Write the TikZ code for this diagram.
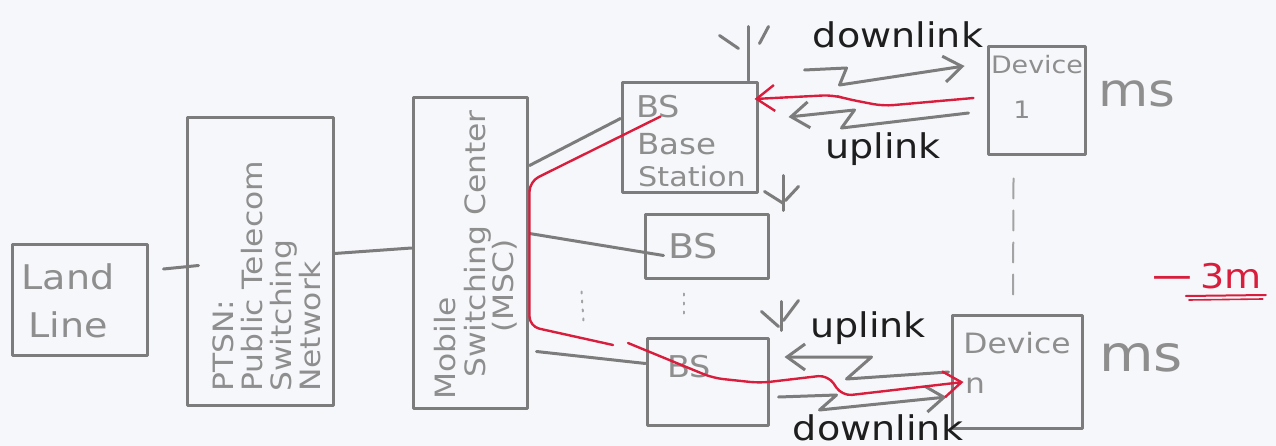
\documentclass[tikz,border=0pt]{standalone}
\usepackage{fontspec}
\setmainfont{DejaVu Sans}[FakeStretch=1.12]
\usetikzlibrary{calc,arrows.meta}
\definecolor{pencil}{HTML}{7C7C7C}
\definecolor{pentext}{HTML}{8E8E8E}
\definecolor{ink}{HTML}{1E1E1E}
\definecolor{redink}{HTML}{D81E3C}
\definecolor{paper}{HTML}{F6F7FA}
\newcommand\handsize[2]{\fontsize{#1}{#2}\selectfont}
\begin{document}
\begin{tikzpicture}[x=1pt,y=-1pt,
  box/.style={draw=pencil, line width=3pt, line join=round, inner sep=0pt},
  wire/.style={draw=pencil, line width=3pt, line cap=round},
  hand/.style={inner sep=0pt, text=pentext},
  pen/.style={inner sep=0pt, text=ink},
  redline/.style={draw=redink, line width=2.4pt, line cap=round, line join=round, rounded corners=10pt},
  barb/.style={-{Straight Barb[length=18pt,width=26pt]}},
  mast/.style={draw=pencil, line width=3pt, line cap=round},
]
\useasboundingbox[fill=paper] (0,0) rectangle (1276,446);

% ---------- boxes ----------
\node[box, minimum width=135, minimum height=110] (land) at (79.5,300) {};
\node[box, minimum width=146, minimum height=287] (ptsn) at (260,261.5) {};
\node[box, minimum width=114, minimum height=310] (msc)  at (470,253) {};
\node[box, minimum width=135, minimum height=110] (bs1)  at (689.5,138) {};
\node[box, minimum width=123, minimum height=63]  (bs2)  at (706.5,246.5) {};
\node[box, minimum width=121, minimum height=87]  (bs3)  at (707.5,381.5) {};
\node[box, minimum width=97,  minimum height=108] (dev1) at (1036.5,101) {};
\node[box, minimum width=130, minimum height=113] (devn) at (1017,371.5) {};

% ---------- box labels ----------
\node[hand, align=center, font=\handsize{34}{48}] (landtxt) at (68,301) {Land\\Line};
\node[hand, rotate=90, anchor=west, align=left, font=\handsize{28}{29}] (ptsntxt)
  at (267,392) {PTSN:\\Public Telecom\\Switching\\Network};
\node[hand, rotate=90, anchor=west, font=\handsize{28}{28}] (msca) at (445,400) {Mobile};
\node[hand, rotate=90, anchor=west, font=\handsize{28}{28}] (mscb) at (478,378) {Switching Center};
\node[hand, rotate=90, anchor=west, font=\handsize{28}{28}] (mscc) at (505,333) {(MSC)};
\node[hand, anchor=base west, font=\handsize{30}{30}] (bs1a) at (636,118) {BS};
\node[hand, anchor=base west, font=\handsize{29}{29}] (bs1b) at (637,155) {Base};
\node[hand, anchor=base west, font=\handsize{27}{27}] (bs1c) at (638,187) {Station};
\node[hand, font=\handsize{34}{34}] (bs2t) at (693,246) {BS};
\node[hand, font=\handsize{30}{30}] (bs3t) at (689,367) {BS};
\node[hand, font=\handsize{24}{24}] (dev1a) at (1037,65) {Device};
\node[hand, font=\handsize{24}{24}] (dev1b) at (1022,110) {1};
\node[hand, font=\handsize{28}{28}] (devna) at (1017,343) {Device};
\node[hand, font=\handsize{28}{28}] (devnb) at (975,386) {n};
\node[hand, font=\handsize{46}{46}] (ms1) at (1137,94) {ms};
\node[hand, font=\handsize{50}{50}] (msn) at (1141,358) {ms};

% ---------- wired links ----------
\draw[wire] ($(land.east)+(15,-31)$) -- ($(ptsn.west)+(13,4)$);
\draw[wire] ($(ptsn.east)+(0,-8)$) -- ($(msc.west)+(0,-5)$);
\draw[wire] ($(msc.north east)+(1,69)$) -- ($(bs1.north west)+(0,37)$);
\draw[wire] ($(msc.north east)+(1,137)$) -- ($(bs2.west)+(20,9)$);
\draw[wire] ($(msc.north east)+(8,255)$) -- ($(bs3.north west)+(0,27)$);

% more base stations / more devices
\draw[pencil!70, line width=2pt, dash pattern=on 2pt off 7pt, line cap=round]
  ($(bs2.south)+(-23,14)$) -- ($(bs2.south)+(-23,40)$);
\draw[pencil!70, line width=2pt, dash pattern=on 2pt off 7pt, line cap=round]
  ($(msc.north east)+(53,195)$) -- ($(msc.north east)+(55,225)$);
\draw[pencil!70, line width=2pt, dash pattern=on 20pt off 12pt, line cap=round]
  ($(dev1.south)+(-23,22)$) -- ($(devn.north)+(-4,-12)$);

% ---------- antennas ----------
\coordinate (ant1) at ($(bs1.north east)+(-10,-55)$);
\draw[mast] (ant1) -- ++(0,54);
\draw[mast] ($(ant1)+(-29,9)$) -- ++(19,13);
\draw[mast] ($(ant1)+(20,0)$) -- ++(-9,17);
\coordinate (ant2) at ($(bs2.north east)+(14,-38)$);
\draw[mast] (ant2) -- ++(0,35);
\draw[mast] ($(ant2)+(-19,16)$) -- ++(19,12);
\draw[mast] ($(ant2)+(15,11)$) -- ++(-13,14);
\coordinate (ant3) at ($(bs3.north east)+(12,-35)$);
\draw[mast] (ant3) -- ++(0,29);
\draw[mast] ($(ant3)+(-20,10)$) -- ++(17,15);
\draw[mast] ($(ant3)+(17,-1)$) -- ++(-15,20);

% ---------- radio links ----------
\draw[wire, line join=round, barb] ($(bs1.east)+(46,-68)$) -- ($(bs1.east)+(88,-70)$)
  -- ($(bs1.east)+(81,-53)$) -- ($(dev1.west)+(-22,-35)$);
\draw[wire, line join=round, barb] ($(dev1.west)+(-18,12)$) -- ($(bs1.east)+(83,-10)$)
  -- ($(bs1.east)+(96,-28)$) -- ($(bs1.east)+(30,-21)$);
\draw[wire, line join=round, barb] ($(devn.west)+(-2,0.5)$) -- ($(bs3.east)+(77,-2.5)$)
  -- ($(bs3.east)+(102,-24.5)$) -- ($(bs3.east)+(15,-24.5)$);
\draw[wire, line join=round, barb] ($(bs3.east)+(9,15.5)$) -- ($(bs3.east)+(67,13.5)$)
  -- ($(bs3.east)+(50,28.5)$) -- ($(devn.west)+(-4,25.5)$);

\node[pen, anchor=base, font=\handsize{34}{34}] (dl1) at (898,48) {downlink};
\node[pen, anchor=base, font=\handsize{34}{34}] (ul1) at (883,159) {uplink};
\node[pen, anchor=base, font=\handsize{34}{34}] (uln) at (868,337) {uplink};
\node[pen, anchor=base, font=\handsize{34}{34}] (dln) at (878,440) {downlink};

% ---------- call path ----------
\coordinate (lift) at (620,344);
\draw[redline] ($(bs1.north west)+(40,35)$) -- ($(msc.north east)+(1,85)$)
  -- ($(msc.north east)+(1,230)$) -- ($(lift)+(-7,1)$);
\draw[redline, barb] ($(lift)+(8,-1)$) -- (713,378) -- (760,383) -- (828,375)
  -- (842,396) -- ($(devn.west)+(13,10.5)$);
\draw[redline, barb] ($(dev1.west)+(-13,-3)$) -- (883,106) -- (847,99) -- (833,95)
  -- ($(bs1.east)+(-4,-39)$);

% ---------- note ----------
\node[inner sep=0pt, text=redink, anchor=base, font=\handsize{34}{34}] (mark) at (1205,288)
  {\scalebox{1.5}[1]{−}\kern4pt 3m};
\draw[redink, line width=2pt, line cap=round] ($(mark.base east)+(-76,8)$) -- ++(80,-1);
\draw[redink, line width=1.6pt, line cap=round] ($(mark.base east)+(-73,12)$) -- ++(74,-1);
\end{tikzpicture}
\end{document}
